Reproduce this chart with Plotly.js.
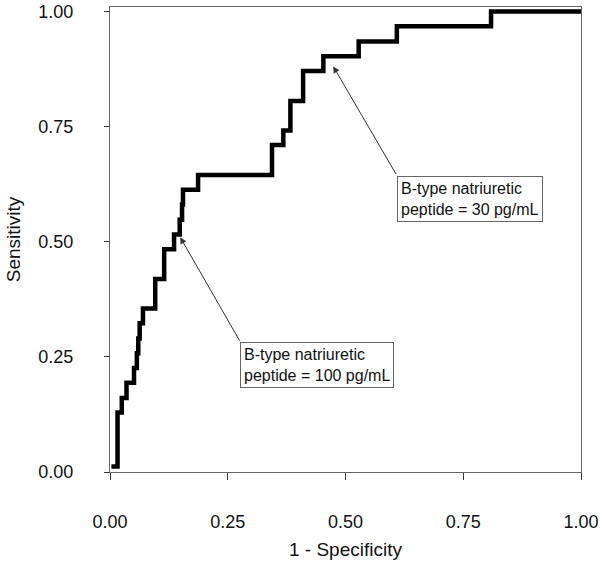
<!DOCTYPE html>
<html>
<head>
<meta charset="utf-8">
<script src="https://cdn.plot.ly/plotly-3.0.1.min.js"></script>
<style>
  html, body { margin: 0; padding: 0; background: #fff; }
  #roc { width: 600px; height: 563px; }
</style>
</head>
<body>
<div id="roc"></div>
<script>
/* ROC curve — B-type natriuretic peptide */

// 1 - specificity (x) and sensitivity (y) at each step corner
const fpr = [0.003, 0.016, 0.025, 0.035, 0.051, 0.057, 0.060, 0.063, 0.070, 0.096,
             0.115, 0.136, 0.148, 0.153, 0.155, 0.187, 0.344, 0.368, 0.383, 0.410,
             0.453, 0.528, 0.609, 0.809, 1.0];
const tpr = [0.012, 0.129, 0.161, 0.194, 0.226, 0.258, 0.290, 0.323, 0.355, 0.419,
             0.484, 0.516, 0.548, 0.581, 0.613, 0.645, 0.710, 0.742, 0.806, 0.871,
             0.903, 0.935, 0.968, 1.0, 1.0];

const tickVals = [0, 0.25, 0.5, 0.75, 1.0];
const tickText = ['0.00', '0.25', '0.50', '0.75', '1.00'];

// callouts: label, arrow head (on curve), arrow tail / box corner
const noteText = ['B-type natriuretic<br>peptide = 100 pg/mL', 'B-type natriuretic<br>peptide = 30 pg/mL'];
const noteHeadX = [0.149, 0.474];
const noteHeadY = [0.510, 0.881];
const noteTailX = [0.277, 0.609];
const noteTailY = [0.282, 0.644];

const FONT = 'Liberation Sans, Arial, sans-serif';

const trace = {
  x: fpr, y: tpr, type: 'scatter', mode: 'lines',
  line: { color: '#000', width: 4.5, shape: 'hv' },
  hoverinfo: 'skip'
};

const axisBase = {
  showgrid: false, zeroline: false,
  showline: true, mirror: true, linecolor: '#666', linewidth: 1,
  ticks: 'outside', tickcolor: '#333', tickwidth: 1,
  tickvals: tickVals, ticktext: tickText,
  tickfont: { family: FONT, size: 18, color: '#111' },
  fixedrange: true
};

const annotations = [];
noteText.forEach((txt, i) => {
  annotations.push({
    x: noteHeadX[i], y: noteHeadY[i], xref: 'x', yref: 'y',
    ax: noteTailX[i], ay: noteTailY[i], axref: 'x', ayref: 'y',
    text: '', showarrow: true,
    arrowhead: 2, arrowsize: 1.3, arrowwidth: 1, arrowcolor: '#333'
  });
  annotations.push({
    x: noteTailX[i], y: noteTailY[i], xref: 'x', yref: 'y',
    xanchor: 'left', yanchor: 'top', showarrow: false,
    text: txt, align: 'left',
    font: { family: FONT, size: 16, color: '#111' },
    bgcolor: '#fff', bordercolor: '#666', borderwidth: 1, borderpad: 3
  });
});

const layout = {
  width: 600, height: 563,
  margin: { l: 110, r: 19, t: 7, b: 91 },
  paper_bgcolor: '#fff', plot_bgcolor: '#fff',
  showlegend: false,
  xaxis: Object.assign({}, axisBase, {
    range: [0, 1.0], ticklen: 7, ticklabelstandoff: 26,
    title: { text: '1 - Specificity', font: { family: FONT, size: 19, color: '#111' }, standoff: 12 }
  }),
  yaxis: Object.assign({}, axisBase, {
    range: [0, 1.01], ticklen: 5, ticklabelstandoff: 27,
    title: { text: 'Sensitivity', font: { family: FONT, size: 19, color: '#111' }, standoff: 12 }
  }),
  annotations: annotations
};

Plotly.newPlot('roc', [trace], layout, { staticPlot: true, displayModeBar: false });
</script>
</body>
</html>
